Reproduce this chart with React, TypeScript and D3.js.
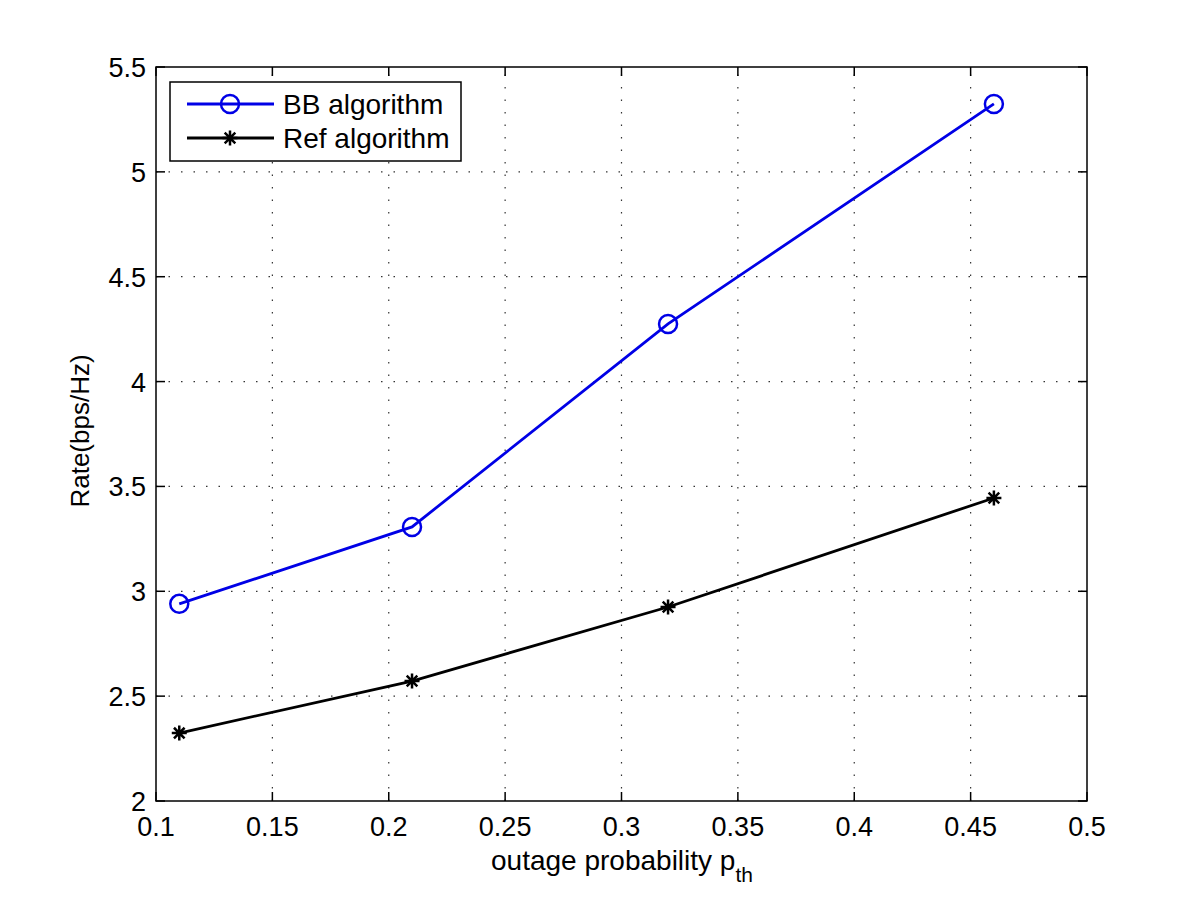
import React, { useEffect, useRef } from 'react';
import * as d3 from 'd3';

// 数据
const pth = [0.11, 0.21, 0.32, 0.46];
const bbRate = [2.94, 3.307, 4.275, 5.324];
const refRate = [2.324, 2.572, 2.925, 3.445];
const xTicks = [0.1, 0.15, 0.2, 0.25, 0.3, 0.35, 0.4, 0.45, 0.5];
const yTicks = [2, 2.5, 3, 3.5, 4, 4.5, 5, 5.5];
const seriesNames = ['BB algorithm', 'Ref algorithm'];

const FONT = '"Liberation Sans", Arial, Helvetica, sans-serif';

export default function App() {
    const ref = useRef<SVGSVGElement | null>(null);

    useEffect(() => {
        const width = 1200,
            height = 903;
        const left = 156, right = 1087, top = 67, bottom = 801;

        const svg = d3.select(ref.current);
        svg.selectAll('*').remove();

        svg.append('rect')
            .attr('width', width)
            .attr('height', height)
            .attr('fill', '#fff');

        const xScale = d3.scaleLinear().domain([0.1, 0.5]).range([left, right]);
        const yScale = d3.scaleLinear().domain([2, 5.5]).range([bottom, top]);

        // 网格
        const grid = svg.append('g')
            .attr('stroke', '#333')
            .attr('stroke-width', 1.2)
            .attr('stroke-dasharray', '1.5,11');
        grid.selectAll('.vgrid')
            .data(xTicks.slice(1, -1))
            .enter()
            .append('line')
            .attr('x1', d => xScale(d))
            .attr('x2', d => xScale(d))
            .attr('y1', bottom)
            .attr('y2', top);
        grid.selectAll('.hgrid')
            .data(yTicks.slice(1, -1))
            .enter()
            .append('line')
            .attr('y1', d => yScale(d))
            .attr('y2', d => yScale(d))
            .attr('x1', left)
            .attr('x2', right);

        // 刻度 (内侧, 四边)
        const tl = 9;
        const ticks = svg.append('g').attr('stroke', '#000').attr('stroke-width', 1.5);
        xTicks.forEach(t => {
            const x = xScale(t);
            ticks.append('line').attr('x1', x).attr('x2', x).attr('y1', bottom).attr('y2', bottom - tl);
            ticks.append('line').attr('x1', x).attr('x2', x).attr('y1', top).attr('y2', top + tl);
        });
        yTicks.forEach(t => {
            const y = yScale(t);
            ticks.append('line').attr('x1', left).attr('x2', left + tl).attr('y1', y).attr('y2', y);
            ticks.append('line').attr('x1', right).attr('x2', right - tl).attr('y1', y).attr('y2', y);
        });

        // 边框
        svg.append('rect')
            .attr('x', left)
            .attr('y', top)
            .attr('width', right - left)
            .attr('height', bottom - top)
            .attr('fill', 'none')
            .attr('stroke', '#000')
            .attr('stroke-width', 1.5);

        // 刻度标签
        svg.append('g').selectAll('text')
            .data(xTicks)
            .enter()
            .append('text')
            .attr('x', d => xScale(d))
            .attr('y', bottom + 35)
            .attr('text-anchor', 'middle')
            .attr('font-family', FONT)
            .attr('font-size', 27)
            .text(d => String(d));
        svg.append('g').selectAll('text')
            .data(yTicks)
            .enter()
            .append('text')
            .attr('x', left - 10)
            .attr('y', d => yScale(d) + 10)
            .attr('text-anchor', 'end')
            .attr('font-family', FONT)
            .attr('font-size', 27)
            .text(d => String(d));

        // 轴标题
        const xl = svg.append('text')
            .attr('x', 622)
            .attr('y', 870)
            .attr('text-anchor', 'middle')
            .attr('font-family', FONT)
            .attr('font-size', 28);
        xl.append('tspan').text('outage probability p');
        xl.append('tspan').attr('dy', 12).attr('font-size', 21).text('th');

        svg.append('text')
            .attr('transform', 'translate(89, 431) rotate(-90)')
            .attr('text-anchor', 'middle')
            .attr('font-family', FONT)
            .attr('font-size', 26)
            .text('Rate(bps/Hz)');

        const line = d3.line<number>()
            .x((d, i) => xScale(pth[i]))
            .y(d => yScale(d));

        const star = (g: any, x: number, y: number, s: number) => {
            const a = s * 0.7071;
            g.append('path')
                .attr('d', `M${x - s},${y}L${x + s},${y}M${x},${y - s}L${x},${y + s}M${x - a},${y - a}L${x + a},${y + a}M${x - a},${y + a}L${x + a},${y - a}`)
                .attr('stroke', '#000')
                .attr('stroke-width', 2.5)
                .attr('fill', 'none');
        };

        // BB 曲线
        svg.append('path')
            .datum(bbRate)
            .attr('d', line)
            .attr('fill', 'none')
            .attr('stroke', '#0000e6')
            .attr('stroke-width', 2.8);
        svg.selectAll('.bb')
            .data(bbRate)
            .enter()
            .append('circle')
            .attr('cx', (d, i) => xScale(pth[i]))
            .attr('cy', d => yScale(d))
            .attr('r', 9)
            .attr('fill', 'none')
            .attr('stroke', '#0000e6')
            .attr('stroke-width', 2.5);

        // Ref 曲线
        svg.append('path')
            .datum(refRate)
            .attr('d', line)
            .attr('fill', 'none')
            .attr('stroke', '#000')
            .attr('stroke-width', 2.8);
        const rg = svg.append('g');
        refRate.forEach((d, i) => star(rg, xScale(pth[i]), yScale(d), 7.5));

        // 图例
        const lg = svg.append('g');
        lg.append('rect')
            .attr('x', 170)
            .attr('y', 82)
            .attr('width', 291)
            .attr('height', 79)
            .attr('fill', '#fff')
            .attr('stroke', '#000')
            .attr('stroke-width', 1.5);
        const rows = [104, 138];
        const colors = ['#0000e6', '#000'];
        seriesNames.forEach((name, i) => {
            lg.append('line')
                .attr('x1', 187).attr('x2', 274)
                .attr('y1', rows[i]).attr('y2', rows[i])
                .attr('stroke', colors[i])
                .attr('stroke-width', 2.8);
            if (i === 0) {
                lg.append('circle')
                    .attr('cx', 230).attr('cy', rows[i]).attr('r', 9)
                    .attr('fill', 'none').attr('stroke', colors[i]).attr('stroke-width', 2.5);
            } else {
                star(lg, 230, rows[i], 7.5);
            }
            lg.append('text')
                .attr('x', 283)
                .attr('y', rows[i] + 10)
                .attr('font-family', FONT)
                .attr('font-size', 28)
                .text(name);
        });
    }, []);

    return (
        <svg ref={ref} width={1200} height={903}
             style={{ position: 'absolute', left: 0, top: 0, display: 'block' }} />
    );
}
